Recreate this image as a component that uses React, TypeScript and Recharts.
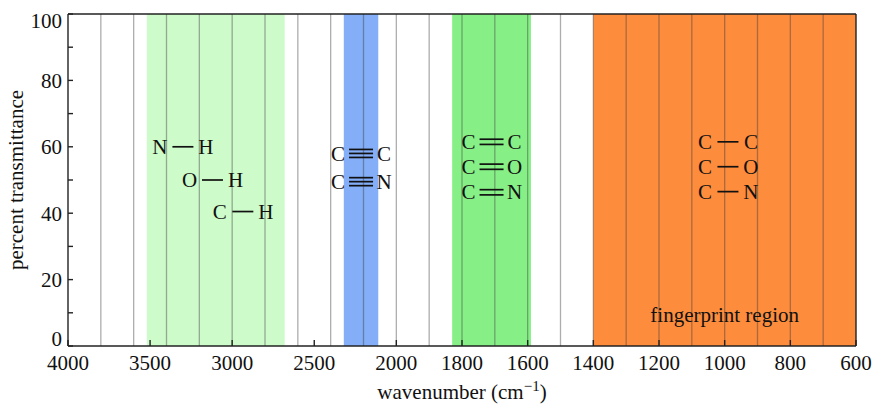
import React from "react";
import {
  ComposedChart,
  XAxis,
  YAxis,
  Scatter,
  ReferenceArea,
  ReferenceLine,
  ReferenceDot,
  Label,
} from "recharts";

// the wavenumber axis is squeezed 2:1 above 2000 cm-1, so plot on a remapped scale
const toAxis = (w: number) => (w > 2000 ? 2000 + (w - 2000) / 2 : w);
const fromAxis = (u: number) => Math.round(u > 2000 ? 2000 + (u - 2000) * 2 : u);

const xTicks = [4000, 3500, 3000, 2500, 2000, 1800, 1600, 1400, 1200, 1000, 800, 600];
const gridLines = [
  3800, 3600, 3400, 3200, 3000, 2800, 2600, 2400, 2200, 2000, 1900, 1800, 1700, 1600,
  1500, 1400, 1300, 1200, 1100, 1000, 900, 800, 700,
];
// unlabeled ticks on the top edge, wavelength in micrometres
const wavelengthTicks = [3, 3.5, 4, 4.5, 5, 5.5, 6, 6.5, 7, 8, 9, 10, 11, 12, 14, 16];
const yTicks = [0, 10, 20, 30, 40, 50, 60, 70, 80, 90, 100];

const bandRanges = [
  [3520, 2680],
  [2320, 2110],
  [1830, 1590],
  [1400, 600],
];
const bandColors = ["#cdfbca", "#84aef8", "#86f086", "#fd8c3d"];

// bond labels: wavenumber, transmittance, atoms, bond order
const bondW = [3300, 3120, 2935, 2215, 2215, 1710, 1710, 1710, 990, 990, 990];
const bondT = [60, 50, 40.5, 58, 49.5, 61.5, 54, 46.3, 61.5, 54, 46.5];
const bondA = ["N", "O", "C", "C", "C", "C", "C", "C", "C", "C", "C"];
const bondB = ["H", "H", "H", "C", "N", "C", "O", "N", "C", "O", "N"];
const bondOrder = [1, 1, 1, 3, 3, 2, 2, 2, 1, 1, 1];

const bondData = bondW.map((w, i) => ({
  u: toAxis(w),
  t: bondT[i],
  a: bondA[i],
  b: bondB[i],
  order: bondOrder[i],
}));

const FONT = "'Liberation Serif', 'DejaVu Serif', serif";
const INK = "#111";

function Bond(props: any) {
  const { cx, cy, payload } = props;
  const { a, b, order } = payload;
  const offs = order === 1 ? [0] : order === 2 ? [-2.6, 2.6] : [-4, 0, 4];
  const half = order === 1 ? 10.5 : 12;
  return (
    <g>
      <text x={cx - 23} y={cy} dy="0.34em" textAnchor="middle" fontSize={21} fill={INK} fontFamily={FONT}>
        {a}
      </text>
      {offs.map((o) => (
        <line key={o} x1={cx - half} x2={cx + half} y1={cy + o} y2={cy + o} stroke={INK} strokeWidth={1.7} />
      ))}
      <text x={cx + 23} y={cy} dy="0.34em" textAnchor="middle" fontSize={21} fill={INK} fontFamily={FONT}>
        {b}
      </text>
    </g>
  );
}

function YTick(props: any) {
  const { x, y, payload } = props;
  const v = payload.value;
  if (v % 20 !== 0) return <g />;
  const shift = v === 100 ? 7 : v === 0 ? -7 : 0;
  return (
    <text x={x} y={y + shift} dy="0.355em" textAnchor="end" fontSize={21} fill={INK} fontFamily={FONT}>
      {v}
    </text>
  );
}

function XTitle(props: any) {
  const vb = props.viewBox;
  return (
    <text x={vb.x + vb.width / 2} y={vb.y + 53} textAnchor="middle" fontSize={21} fill={INK} fontFamily={FONT}>
      wavenumber (cm
      <tspan dy={-8} fontSize={15}>
        −1
      </tspan>
      <tspan dy={8}>)</tspan>
    </text>
  );
}

function YTitle(props: any) {
  const vb = props.viewBox;
  const x = vb.x + 17;
  const y = vb.y + vb.height / 2;
  return (
    <text
      x={x}
      y={y}
      dy="0.3em"
      transform={`rotate(-90 ${x} ${y})`}
      textAnchor="middle"
      fontSize={21}
      fill={INK}
      fontFamily={FONT}
    >
      percent transmittance
    </text>
  );
}

export default function App() {
  const domain = [toAxis(600), toAxis(4000)];
  return (
    <div style={{ position: "absolute", left: 0, top: 0, width: 875, height: 404, background: "#fff", fontFamily: FONT }}>
      <ComposedChart width={875} height={404} data={bondData} margin={{ top: 4, right: 9, bottom: 4, left: 0 }}>
        <XAxis
          xAxisId="bottom"
          dataKey="u"
          type="number"
          domain={domain}
          allowDataOverflow
          reversed
          ticks={xTicks.map(toAxis)}
          interval={0}
          tickFormatter={(u) => String(fromAxis(u))}
          height={54}
          tickSize={-6}
          tickMargin={15}
          stroke="#222"
          strokeWidth={1.4}
          tick={{ fontSize: 21, fill: INK, fontFamily: FONT }}
        >
          <Label content={XTitle} />
        </XAxis>
        <XAxis
          xAxisId="top"
          dataKey="u"
          orientation="top"
          type="number"
          domain={domain}
          allowDataOverflow
          reversed
          ticks={wavelengthTicks.map((l) => toAxis(10000 / l))}
          interval={0}
          height={10}
          tickSize={-6}
          tick={false}
          stroke="#222"
          strokeWidth={1.4}
        />
        <YAxis
          yAxisId="left"
          dataKey="t"
          type="number"
          domain={[0, 100]}
          allowDataOverflow
          ticks={yTicks}
          interval={0}
          width={68}
          tickSize={-5}
          tickMargin={11}
          stroke="#222"
          strokeWidth={1.4}
          tick={YTick}
        >
          <Label content={YTitle} />
        </YAxis>
        <YAxis
          yAxisId="right"
          dataKey="t"
          orientation="right"
          type="number"
          domain={[0, 100]}
          allowDataOverflow
          ticks={yTicks}
          interval={0}
          width={10}
          tickSize={-5}
          tick={false}
          stroke="#222"
          strokeWidth={1.4}
        />
        {bandRanges.map(([a, b], i) => (
          <ReferenceArea
            key={"band" + i}
            xAxisId="bottom"
            yAxisId="left"
            x1={toAxis(a)}
            x2={toAxis(b)}
            y1={0}
            y2={100}
            fill={bandColors[i]}
            fillOpacity={1}
            stroke="none"
          />
        ))}
        {gridLines.map((w) => (
          <ReferenceLine
            key={"g" + w}
            xAxisId="bottom"
            yAxisId="left"
            x={toAxis(w)}
            stroke="rgba(60,60,60,0.42)"
            strokeWidth={1.3}
          />
        ))}
        <Scatter
          xAxisId="bottom"
          yAxisId="left"
          dataKey="t"
          shape={Bond}
          isAnimationActive={false}
        />
        <ReferenceDot
          xAxisId="bottom"
          yAxisId="left"
          x={toAxis(1000)}
          y={9}
          r={0}
          shape={(p: any) => (
            <text x={p.cx} y={p.cy} dy="0.3em" textAnchor="middle" fontSize={21} fill={INK} fontFamily={FONT}>
              fingerprint region
            </text>
          )}
        />
      </ComposedChart>
    </div>
  );
}
